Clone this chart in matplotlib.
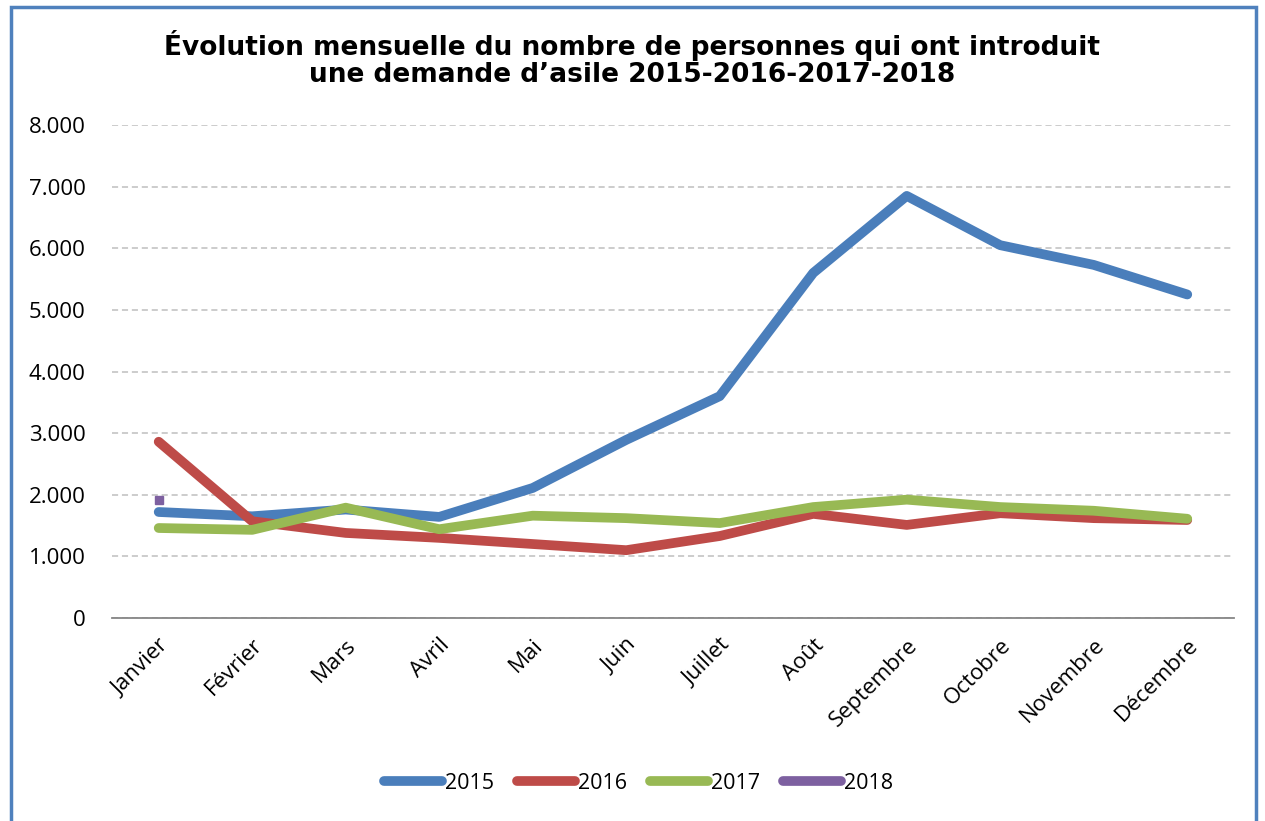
import matplotlib.pyplot as plt
from matplotlib.patches import Rectangle
from matplotlib.ticker import FuncFormatter

mois = ['Janvier', 'Février', 'Mars', 'Avril', 'Mai', 'Juin', 'Juillet',
        'Août', 'Septembre', 'Octobre', 'Novembre', 'Décembre']
v2015 = [1720, 1650, 1760, 1640, 2110, 2890, 3600, 5600, 6850, 6050, 5730, 5250]
v2016 = [2860, 1570, 1380, 1300, 1200, 1100, 1330, 1690, 1510, 1700, 1620, 1590]
v2017 = [1460, 1430, 1790, 1440, 1660, 1620, 1540, 1800, 1920, 1800, 1740, 1610]
v2018 = [1920]

plt.rcParams['font.family'] = ['Open Sans', 'DejaVu Sans']

fig = plt.figure(figsize=(12.65, 8.21), dpi=100)
ax = fig.add_axes([0.0885, 0.2473, 0.887, 0.6004])

x = list(range(len(mois)))
lw = 7
ax.plot(x, v2015, color='#4a7ebb', lw=lw, solid_capstyle='round', solid_joinstyle='round', label='2015')
ax.plot(x, v2016, color='#be4b48', lw=lw, solid_capstyle='round', solid_joinstyle='round', label='2016')
ax.plot(x, v2017, color='#98b954', lw=lw, solid_capstyle='round', solid_joinstyle='round', label='2017')
ax.plot(x[:len(v2018)], v2018, color='#7d60a0', lw=lw, marker='s', markersize=6,
        linestyle='none', label='2018')

ax.set_xlim(-0.5, len(mois) - 0.5)
ax.set_ylim(0, 8000)
ax.set_yticks(range(0, 8001, 1000))
ax.yaxis.set_major_formatter(FuncFormatter(lambda v, p: '0' if v == 0 else '{:,.0f}'.format(v).replace(',', '.')))
ax.set_xticks(x)
ax.set_xticklabels(mois, rotation=45, ha='right', rotation_mode='anchor')
ax.tick_params(axis='both', length=0, labelsize=16)
ax.tick_params(axis='y', pad=19)
ax.tick_params(axis='x', pad=12)

ax.grid(axis='y', color='#bfbfbf', linestyle=(0, (4, 2.5)), lw=1.1)
ax.set_axisbelow(True)
for s in ['left', 'right', 'top']:
    ax.spines[s].set_visible(False)
ax.spines['bottom'].set_color('#868686')
ax.spines['bottom'].set_linewidth(1.3)

fig.text(0.5, 0.928, "Évolution mensuelle du nombre de personnes qui ont introduit\nune demande d\u2019asile 2015-2016-2017-2018",
         ha='center', va='center', fontsize=19, fontweight='bold', family='DejaVu Sans', linespacing=1.05)

handles = [plt.Line2D([], [], color=c, lw=lw, solid_capstyle='round')
           for c in ['#4a7ebb', '#be4b48', '#98b954', '#7d60a0']]
fig.legend(handles, ['2015', '2016', '2017', '2018'], loc='center', bbox_to_anchor=(0.505, 0.046),
           ncol=4, frameon=False, fontsize=15.5, handlelength=2.7, handletextpad=0.15, columnspacing=1.05)

fig.patches.append(Rectangle((0.009, -0.05), 0.984, 1.042, transform=fig.transFigure,
                             fill=False, edgecolor='#4f81bd', lw=2.5))

fig.savefig('out.png', dpi=100)
